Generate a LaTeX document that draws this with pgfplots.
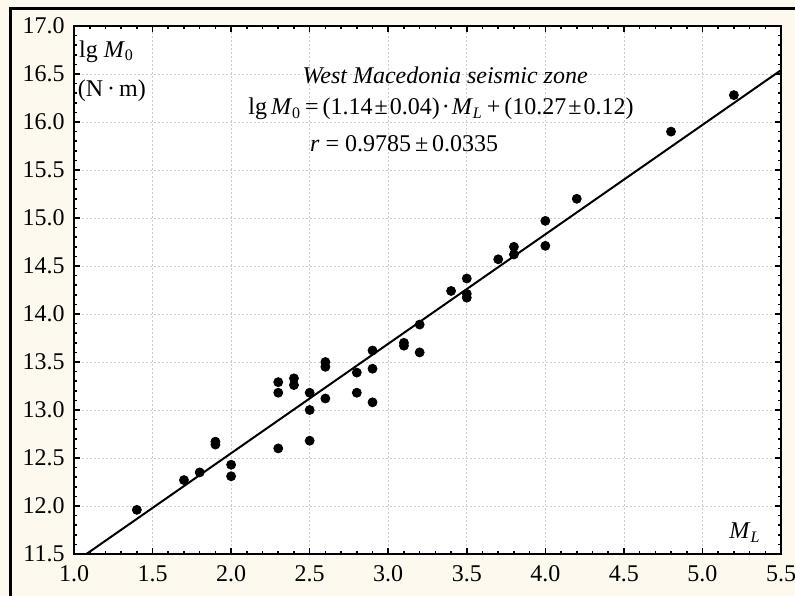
\documentclass[border=0pt]{standalone}
\usepackage{fontspec}
\setmainfont{Liberation Serif}
\usepackage{pgfplots}
\pgfplotsset{compat=1.18}
\definecolor{cream}{HTML}{FDF9EE}

\begin{document}
\fontsize{12}{14}\selectfont
\begin{tikzpicture}
% page frame: 795x596 px at 0.5pt per px
\useasboundingbox (0,0) rectangle (397.5pt,298pt);
\fill[cream] (0,0) rectangle (397.5pt,298pt);
\draw[line width=1.5pt] (5pt,0) -- (5pt,293.5pt) -- (397.5pt,293.5pt);
\begin{axis}[
    at={(37pt,21pt)}, anchor=south west,
    width=353.5pt, height=264pt, scale only axis,
    xmin=1, xmax=5.5, ymin=11.5, ymax=17,
    xtick={1,1.5,2,2.5,3,3.5,4,4.5,5,5.5},
    ytick={11.5,12,12.5,13,13.5,14,14.5,15,15.5,16,16.5,17},
    minor x tick num=4, minor y tick num=4,
    tick align=inside,
    major tick length=3pt, minor tick length=1.6pt,
    every tick/.style={black, line width=0.8pt},
    axis line style={line width=1pt},
    grid=major,
    major grid style={dash pattern=on 1pt off 1pt, gray!40, line width=0.4pt},
    axis background/.style={fill=white},
    /pgf/number format/assume math mode=true,
    /pgf/number format/fixed,
    /pgf/number format/fixed zerofill,
    /pgf/number format/precision=1,
    xticklabel style={yshift=-1.5pt},
    yticklabel style={xshift=-0.5pt},
]
\addplot[only marks, mark=*, mark size=2.25pt, black] table {
x y
1.4 11.96
1.7 12.27
1.8 12.35
1.9 12.67
1.9 12.64
2.0 12.43
2.0 12.31
2.3 12.60
2.3 13.29
2.3 13.18
2.4 13.33
2.4 13.26
2.5 13.18
2.5 13.00
2.5 12.68
2.6 13.50
2.6 13.45
2.6 13.12
2.8 13.39
2.8 13.18
2.9 13.62
2.9 13.43
2.9 13.08
3.1 13.70
3.1 13.67
3.2 13.89
3.2 13.60
3.4 14.24
3.5 14.37
3.5 14.21
3.5 14.17
3.7 14.57
3.8 14.70
3.8 14.62
4.0 14.97
4.0 14.71
4.2 15.20
4.8 15.90
5.2 16.28
};
\addplot[black, line width=1pt] coordinates {(1.0,11.41) (5.5,16.54)};

\node[anchor=west, inner sep=1pt] at (rel axis cs:0.004,0.952) {lg \textit{M}\textsubscript{0}};
\node[anchor=west, inner sep=1pt] at (rel axis cs:0.002,0.877) {(N\,·\,m)};
\node at (rel axis cs:0.525,0.907) {\textit{West Macedonia seismic zone}};
\node at (rel axis cs:0.519,0.843) {lg\,\textit{M}\textsubscript{0}\,=\,(1.14\kern1pt±\kern1pt0.04)\kern1pt·\kern1pt\textit{M}\textsubscript{\textit{L}}\,+\,(10.27\kern1pt±\kern1pt0.12)};
\node at (rel axis cs:0.467,0.778) {\textit{r} = 0.9785\,±\,0.0335};
\node at (rel axis cs:0.949,0.040) {\textit{M}\textsubscript{\textit{L}}};
\end{axis}
\end{tikzpicture}
\end{document}
